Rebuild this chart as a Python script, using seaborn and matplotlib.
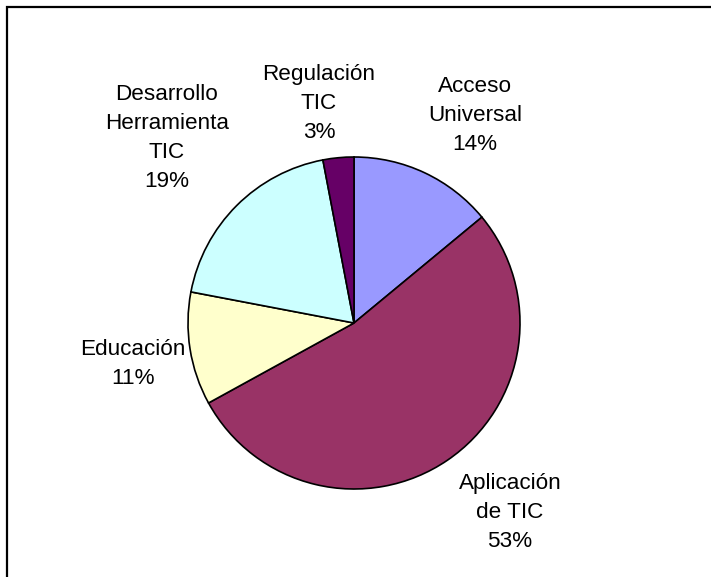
import matplotlib
matplotlib.use("Agg")
import matplotlib.pyplot as plt
import seaborn as sns
from matplotlib.patches import Rectangle

categories = ["Acceso\nUniversal", "Aplicación\nde TIC", "Educación",
              "Desarrollo\nHerramienta\nTIC", "Regulación\nTIC"]
values = [14, 53, 11, 19, 3]
colors = ["#9999FF", "#993366", "#FFFFCC", "#CCFFFF", "#660066"]
# label offsets (in pie-radius units) relative to the pie centre
label_pos = [(0.729, 1.247), (0.940, -1.139), (-1.331, -0.247),
             (-1.127, 1.114), (-0.211, 1.325)]

sns.set_theme(style="white")
plt.rcParams['font.family'] = ['Liberation Sans', 'DejaVu Sans']

fig = plt.figure(figsize=(7.11, 5.77), dpi=100)
ax = fig.add_axes([0, 0, 1, 1])
ax.pie(values, colors=colors, startangle=90, counterclock=False,
       radius=1.0, wedgeprops=dict(edgecolor="black", linewidth=1.2))
ax.set_aspect('auto')
ax.set_xlim(-354 / 166, (711 - 354) / 166)
ax.set_ylim(-254 / 166, 323 / 166)
ax.axis('off')

for name, v, (x, y) in zip(categories, values, label_pos):
    ax.text(x, y, f"{name}\n{v}%", ha="center", va="center",
            fontsize=16.2, color="black", linespacing=1.5)

fig.patches.append(Rectangle((6.5 / 711, -0.1), 1.2, 1.1 - 7.5 / 577,
                             transform=fig.transFigure, fill=False,
                             edgecolor="black", linewidth=1.6))
fig.savefig("out.png", dpi=100, facecolor="white")
